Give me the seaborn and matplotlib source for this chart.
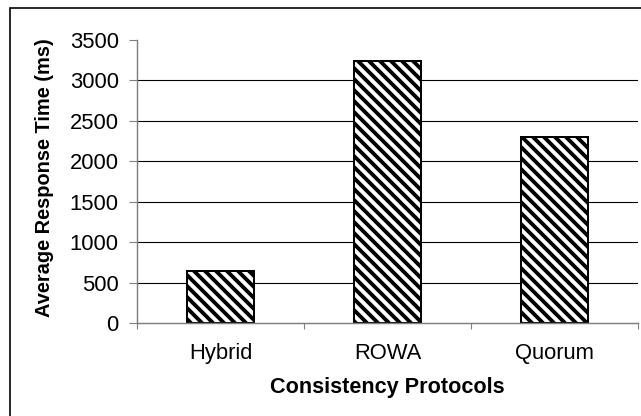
import matplotlib
matplotlib.use("Agg")
import matplotlib.pyplot as plt
import seaborn as sns
from matplotlib.patches import Rectangle
from matplotlib.ticker import FixedLocator, NullFormatter

# Data
protocols = ["Hybrid", "ROWA", "Quorum"]
response_ms = [640, 3240, 2300]
y_ticks = [0, 500, 1000, 1500, 2000, 2500, 3000, 3500]

sns.set_theme(style="white")
plt.rcParams["font.family"] = ["Liberation Sans", "DejaVu Sans"]
plt.rcParams["hatch.linewidth"] = 2.1
plt.rcParams["hatch.color"] = "black"

DPI = 132
W, H = 641, 416
fig = plt.figure(figsize=(W / DPI, H / DPI), dpi=DPI, facecolor="white")

# Plot area in pixel coordinates
left, right, top, bottom = 137, 638, 40, 323
ax = fig.add_axes([left / W, (H - bottom) / H, (right - left) / W, (bottom - top) / H])

sns.barplot(x=protocols, y=response_ms, ax=ax, width=0.4, color="white",
            edgecolor="black", linewidth=1.1, hatch="\\\\\\\\", saturation=1)

ax.set_xlim(-0.5, 2.5)
ax.set_ylim(0, 3500)
ax.set_yticks(y_ticks)
ax.set_yticklabels([str(v) for v in y_ticks])

# Horizontal gridlines (none on top boundary)
for v in y_ticks[1:-1]:
    ax.axhline(v, color="black", lw=0.6, zorder=0)

for s in ["top", "right"]:
    ax.spines[s].set_visible(False)
for s in ["left", "bottom"]:
    ax.spines[s].set_color("#808080")
    ax.spines[s].set_linewidth(0.8)

fs_tick = 12
fs_lab = 11.8
ax.tick_params(axis="y", which="major", direction="out", length=4.5, width=0.6,
               color="#808080", pad=5.5, labelsize=fs_tick, labelcolor="black", left=True)
ax.tick_params(axis="x", which="major", length=0, pad=11, labelsize=fs_tick, labelcolor="black")
ax.xaxis.set_minor_locator(FixedLocator([-0.5, 0.5, 1.5, 2.5]))
ax.xaxis.set_minor_formatter(NullFormatter())
ax.tick_params(axis="x", which="minor", direction="out", length=3.5, width=0.6,
               color="#808080", bottom=True)

ax.set_xlabel("Consistency Protocols", fontsize=fs_lab, fontweight="bold", color="black")
ax.set_ylabel("Average Response Time (ms)", fontsize=10.9, fontweight="bold", color="black")
ax.xaxis.label.set_va("center")
ax.yaxis.label.set_va("center")
ax.xaxis.set_label_coords(0.5, (bottom - 387) / (bottom - top))
ax.yaxis.set_label_coords((45 - left) / (right - left), 0.515)

# Outer chart frame
fig.add_artist(Rectangle((10 / W, -0.1), 1.2, (H - 8) / H + 0.1,
                         transform=fig.transFigure, fill=False,
                         edgecolor="black", lw=0.9, clip_on=False))

fig.savefig("out.png", dpi=DPI, facecolor="white")
